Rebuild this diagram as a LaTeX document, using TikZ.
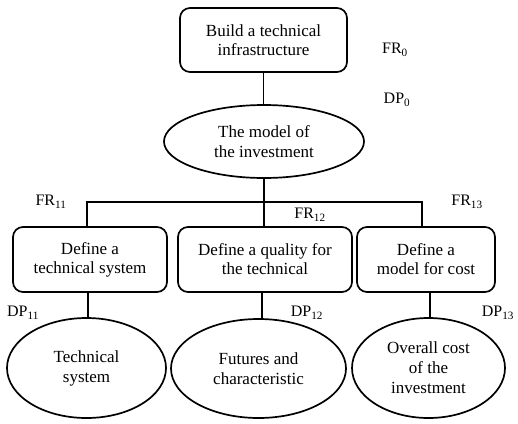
\documentclass[tikz,border=0pt]{standalone}
\usepackage{fontspec}
\setmainfont{Liberation Serif}
\usepackage{tikz}
\usetikzlibrary{shapes.geometric, positioning, calc}

\begin{document}
\begin{tikzpicture}[
    x=1pt, y=-1pt,
    req/.style={rectangle, draw, line width=1.7pt, rounded corners=10pt, minimum height=65pt, inner sep=0pt, align=center, font=\fontsize{17}{19}\selectfont},
    param/.style={ellipse, draw, line width=1.7pt, inner sep=0pt, align=center, font=\fontsize{17}{20}\selectfont},
    tag/.style={font=\fontsize{16}{18}\selectfont, inner sep=0pt},
    link/.style={line width=1.7pt}
]
\useasboundingbox (0,0) rectangle (518,423);

\node[req, minimum width=167pt, minimum height=64pt] (root) at (263.5,40) {Build a technical\\infrastructure};
\node[param, minimum width=200pt, minimum height=73pt] (model) at (264,141.5) {The model of\\the investment};
\node[tag] (fr0) at (395,50) {FR\textsubscript{0}};
\node[tag] (dp0) at (397,100) {DP\textsubscript{0}};

\node[req, minimum width=154pt] (sys) at (90,259.5) {Define a\\technical system};
\node[req, minimum width=174pt] (qual) at (265,259.5) {Define a quality for\\the technical};
\node[req, minimum width=138pt] (cost) at (426,259.5) {Define a\\model for cost};

\node[param, minimum width=159pt, minimum height=100pt] (tsys) at (86.5,368) {Technical\\system};
\node[param, minimum width=175pt, minimum height=99pt] (feat) at (258.5,368.5) {Futures and\\characteristic};
\node[param, minimum width=153pt, minimum height=100pt] (total) at (428.5,368) {Overall cost\\of the\\investment};

\node[tag] (fr11) at (51,202) {FR\textsubscript{11}};
\node[tag] (fr12) at (310,215) {FR\textsubscript{12}};
\node[tag] (fr13) at (467,202) {FR\textsubscript{13}};
\node[tag] (dp11) at (23,313) {DP\textsubscript{11}};
\node[tag] (dp12) at (307,313) {DP\textsubscript{12}};
\node[tag] (dp13) at (498,313) {DP\textsubscript{13}};

\coordinate (bus) at (266,202);

\draw[link] (root.south) -- (root.south |- model.north);
\draw[link] (model.south) -- (model.south |- qual.north);
\draw[link] ([xshift=-3pt]sys.north) |- (bus) -| ([xshift=-4pt]cost.north);
\draw[link] ([xshift=-2pt]sys.south) -- ([xshift=-2pt]sys.south |- tsys.north);
\draw[link] ([xshift=-3pt]qual.south) -- ([xshift=-3pt]qual.south |- feat.north);
\draw[link] ([xshift=4pt]cost.south) -- ([xshift=4pt]cost.south |- total.north);
\end{tikzpicture}
\end{document}
